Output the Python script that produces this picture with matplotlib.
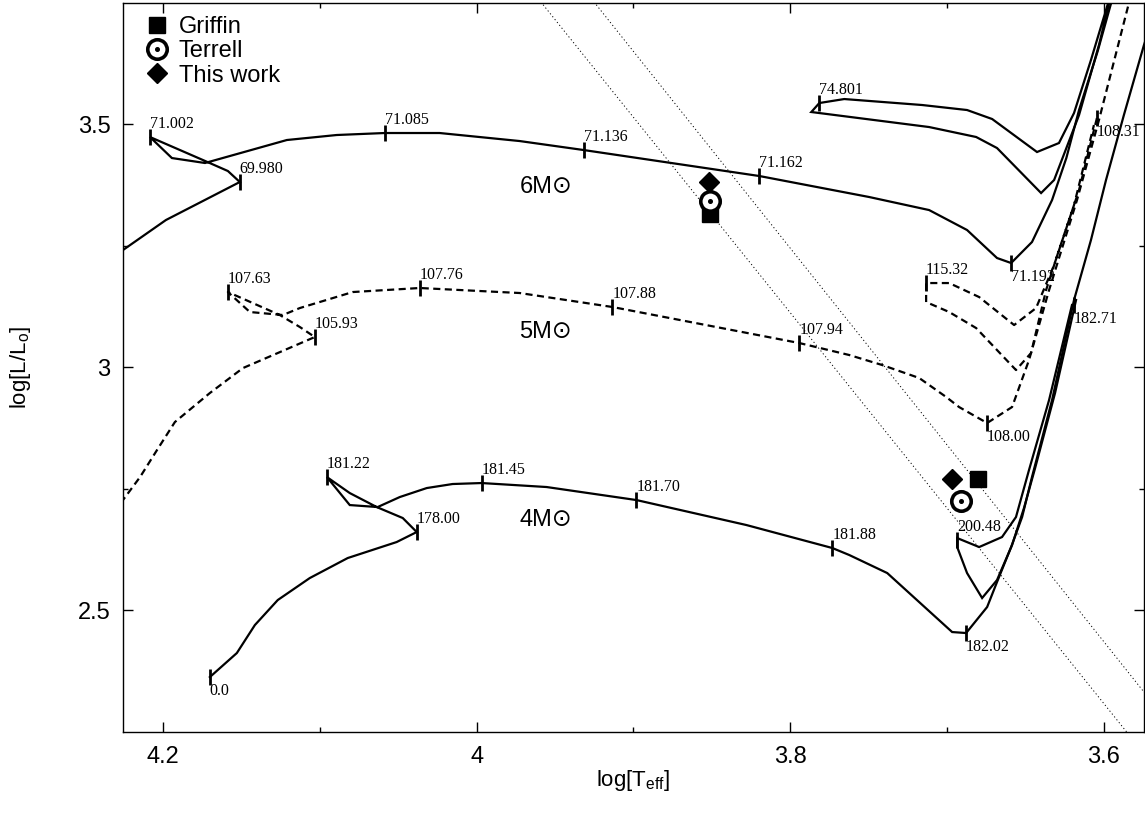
import matplotlib
matplotlib.use("Agg")
import matplotlib.pyplot as plt
from matplotlib.legend_handler import HandlerTuple

plt.rcParams["font.family"] = ["Liberation Sans", "DejaVu Sans"]
plt.rcParams["mathtext.fontset"] = "custom"
plt.rcParams["mathtext.rm"] = "Liberation Sans"
plt.rcParams["mathtext.it"] = "Liberation Sans:italic"

# ---- 6 Msun track (main path and blue loop), log Teff / log L
M6_T = [4.2401, 4.1981, 4.1510, 4.1586, 4.1745, 4.2083, 4.1943, 4.1732, 4.1210,
        4.0892, 4.0586, 4.0236, 3.9726, 3.9318, 3.8197, 3.7497, 3.7115, 3.6873,
        3.6682, 3.6592, 3.6459, 3.6331, 3.6240, 3.6159, 3.6040, 3.5949, 3.5917]
M6_L = [3.2078, 3.3025, 3.3807, 3.4033, 3.4259, 3.4733, 3.4300, 3.4198, 3.4671,
        3.4774, 3.4815, 3.4815, 3.4650, 3.4465, 3.3930, 3.3498, 3.3230, 3.2819,
        3.2243, 3.2140, 3.2572, 3.3436, 3.4300, 3.5288, 3.6500, 3.7551, 3.796]
M6_LOOP_T = [3.5940, 3.5968, 3.6083, 3.6191, 3.6287, 3.6427, 3.6713, 3.6873,
             3.7159, 3.7656, 3.7815, 3.7866, 3.7115, 3.6815, 3.6682, 3.6401,
             3.6318, 3.6159, 3.6032, 3.5962, 3.5930]
M6_LOOP_L = [3.796, 3.7551, 3.6317, 3.5226, 3.4609, 3.4424, 3.5103, 3.5288,
             3.5391, 3.5514, 3.5432, 3.5247, 3.4938, 3.4733, 3.4506, 3.3580,
             3.3848, 3.5185, 3.6626, 3.7551, 3.796]
M6_AGES = ["69.980", "71.002", "71.085", "71.136", "71.162", "71.192", "74.801"]
M6_AGE_T = [4.1510, 4.2083, 4.0586, 3.9318, 3.8197, 3.6592, 3.7815]
M6_AGE_L = [3.3807, 3.4733, 3.4815, 3.4465, 3.3930, 3.2140, 3.5432]

# ---- 5 Msun track (dashed)
M5_T = [4.2401, 4.2255, 4.2146, 4.2038, 4.1924, 4.1701, 4.1490, 4.1032, 4.1127,
        4.1255, 4.1586, 4.1446, 4.1236, 4.1127, 4.0790, 4.0363, 3.9726, 3.9134,
        3.7943, 3.7624, 3.7414, 3.7178, 3.7006, 3.6924, 3.6745, 3.6586, 3.6478,
        3.6350, 3.6172, 3.6032, 3.5841, 3.5803]
M5_L = [2.663, 2.7263, 2.7737, 2.8292, 2.8868, 2.9465, 2.9979, 3.0617, 3.0823,
        3.1070, 3.1543, 3.1132, 3.1070, 3.1214, 3.1543, 3.1626, 3.1523, 3.1235,
        3.0494, 3.0247, 3.0041, 2.9774, 2.9383, 2.9177, 2.8848, 2.9177, 3.0144,
        3.1584, 3.3436, 3.5082, 3.7490, 3.796]
M5_LOOP_T = [3.6045, 3.6159, 3.6287, 3.6369, 3.6465, 3.6561, 3.6815, 3.6987,
             3.7134, 3.7134, 3.6987, 3.6796, 3.6573, 3.6433, 3.6318, 3.6191,
             3.6064]
M5_LOOP_L = [3.5123, 3.3642, 3.2407, 3.1584, 3.0288, 2.9938, 3.0802, 3.1132,
             3.1337, 3.1728, 3.1728, 3.1440, 3.0864, 3.1214, 3.2099, 3.3333,
             3.4979]
M5_AGES = ["105.93", "107.63", "107.76", "107.88", "107.94", "108.00", "108.31", "115.32"]
M5_AGE_T = [4.1032, 4.1586, 4.0363, 3.9134, 3.7943, 3.6745, 3.6045, 3.7134]
M5_AGE_L = [3.0617, 3.1543, 3.1626, 3.1235, 3.0494, 2.8848, 3.5123, 3.1728]

# ---- 4 Msun track
M4_T = [4.1701, 4.1529, 4.1414, 4.1268, 4.1064, 4.0822, 4.0510, 4.0382, 4.0471,
        4.0637, 4.0809, 4.0955, 4.0809, 4.0631, 4.0490, 4.0318, 4.0153, 3.9968,
        3.9554, 3.8981, 3.8280, 3.7732, 3.7624, 3.7382, 3.6968, 3.6879, 3.6745,
        3.6682, 3.6592, 3.6522, 3.6459, 3.6331, 3.6191, 3.6083, 3.5987, 3.5873,
        3.5745, 3.5650]
M4_L = [2.3621, 2.4115, 2.4691, 2.5206, 2.5658, 2.6070, 2.6399, 2.6605, 2.6893,
        2.7119, 2.7407, 2.7737, 2.7160, 2.7119, 2.7325, 2.7510, 2.7593, 2.7613,
        2.7531, 2.7263, 2.6749, 2.6276, 2.6132, 2.5761, 2.4547, 2.4527, 2.5062,
        2.5576, 2.6296, 2.6914, 2.7737, 2.9321, 3.1379, 3.2613, 3.3848, 3.5185,
        3.6626, 3.755]
M4_LOOP_T = [3.6204, 3.6350, 3.6478, 3.6561, 3.6650, 3.6796, 3.6936, 3.6936,
             3.6873, 3.6777, 3.6682, 3.6586, 3.6510, 3.6439, 3.6312, 3.6178]
M4_LOOP_L = [3.1276, 2.9321, 2.7881, 2.6914, 2.6502, 2.6296, 2.6481, 2.6296,
             2.5761, 2.5247, 2.5617, 2.6337, 2.7099, 2.7922, 2.9465, 3.1379]
M4_AGES = ["0.0", "178.00", "181.22", "181.45", "181.70", "181.88", "182.02", "182.71", "200.48"]
M4_AGE_T = [4.1701, 4.0382, 4.0955, 3.9968, 3.8981, 3.7732, 3.6879, 3.6191, 3.6936]
M4_AGE_L = [2.3621, 2.6605, 2.7737, 2.7613, 2.7263, 2.6276, 2.4527, 3.1276, 2.6440]

# ---- observed positions
GRIFFIN_T = [3.8510, 3.6803]
GRIFFIN_L = [3.3148, 2.7695]
TERRELL_T = [3.8510, 3.6911]
TERRELL_L = [3.3416, 2.7243]
THIS_WORK_T = [3.8516, 3.6968]
THIS_WORK_L = [3.3807, 2.7695]

# ---- instability strip edges (dotted)
EDGE_A_T = [4.0209, 3.5236]
EDGE_A_L = [4.0, 2.0]
EDGE_B_T = [3.9866, 3.4927]
EDGE_B_L = [4.0, 2.0]

# label placement: "u" above-right of the tick, "d" below-right
M6_SIDE = ["u", "u", "u", "u", "u", "d", "u"]
M5_SIDE = ["u", "u", "u", "u", "u", "d", "d", "u"]
M4_SIDE = ["d", "u", "u", "u", "u", "u", "d", "d", "u"]

fig = plt.figure(figsize=(11.45, 8.13), dpi=100)
ax = fig.add_axes([0.1074, 0.0996, 0.8917, 0.8967])

LW = 1.6
solid = dict(color="black", lw=LW, solid_joinstyle="miter", zorder=3)
dashed = dict(color="black", lw=LW, linestyle=(0, (3.2, 2.0)), zorder=3)

ax.plot(EDGE_A_T, EDGE_A_L, color="black", lw=0.7, linestyle=(0, (1.2, 2.6)), zorder=2)
ax.plot(EDGE_B_T, EDGE_B_L, color="black", lw=0.7, linestyle=(0, (1.2, 2.6)), zorder=2)

ax.plot(M6_T, M6_L, **solid)
ax.plot(M6_LOOP_T, M6_LOOP_L, **solid)
ax.plot(M5_T, M5_L, **dashed)
ax.plot(M5_LOOP_T, M5_LOOP_L, **dashed)
ax.plot(M4_T, M4_L, **solid)
ax.plot(M4_LOOP_T, M4_LOOP_L, **solid)

for ages, ts, ls, sides in [(M6_AGES, M6_AGE_T, M6_AGE_L, M6_SIDE),
                            (M5_AGES, M5_AGE_T, M5_AGE_L, M5_SIDE),
                            (M4_AGES, M4_AGE_T, M4_AGE_L, M4_SIDE)]:
    ax.plot(ts, ls, linestyle="none", marker="|", markersize=11,
            markeredgewidth=2.0, color="black", zorder=4)
    for lab, t, l, s in zip(ages, ts, ls, sides):
        if s == "u":
            ax.annotate(lab, (t, l), xytext=(0, 3.5), textcoords="offset points",
                        ha="left", va="bottom", fontsize=11.5,
                        family="Liberation Serif", zorder=5)
        else:
            ax.annotate(lab, (t, l), xytext=(0, -4.5), textcoords="offset points",
                        ha="left", va="top", fontsize=11.5,
                        family="Liberation Serif", zorder=5)

# observations
h_sq, = ax.plot(GRIFFIN_T, GRIFFIN_L, linestyle="none", marker="s",
                markersize=11, color="black", zorder=6)
h_ci, = ax.plot(TERRELL_T, TERRELL_L, linestyle="none", marker="o",
                markersize=14, markerfacecolor="white", markeredgecolor="black",
                markeredgewidth=2.6, zorder=6)
h_dot, = ax.plot(TERRELL_T, TERRELL_L, linestyle="none", marker="o",
                 markersize=2.6, color="black", zorder=7)
h_di, = ax.plot(THIS_WORK_T, THIS_WORK_L, linestyle="none", marker="D",
                markersize=10, color="black", zorder=6)

for txt, l in [("6M\u2299", 3.370), ("5M\u2299", 3.072), ("4M\u2299", 2.685)]:
    ax.text(3.9726, l, txt, fontsize=17, ha="left", va="center", zorder=5)

leg = ax.legend([h_sq, (h_ci, h_dot), h_di], ["Griffin", "Terrell", "This work"],
                handler_map={tuple: HandlerTuple(ndivide=1)},
                loc="upper left", bbox_to_anchor=(0.013, 0.997),
                frameon=False, fontsize=17,
                handlelength=0.9, handletextpad=0.45, labelspacing=0.1,
                borderaxespad=0.15, borderpad=0.3)

ax.set_xlim(4.2255, 3.5745)
ax.set_ylim(2.249, 3.749)
ax.set_xticks([4.2, 4.0, 3.8, 3.6])
ax.set_xticklabels(["4.2", "4", "3.8", "3.6"])
ax.set_xticks([4.1, 3.9, 3.7], minor=True)
ax.set_yticks([2.5, 3.0, 3.5])
ax.set_yticklabels(["2.5", "3", "3.5"])
ax.set_yticks([2.75, 3.25], minor=True)
ax.tick_params(which="both", direction="in", top=True, right=True, width=1.0)
ax.tick_params(which="major", length=7.5, labelsize=17)
ax.tick_params(axis="x", which="major", pad=10)
ax.tick_params(axis="y", which="major", pad=9)
ax.tick_params(which="minor", length=3.8)
for sp in ax.spines.values():
    sp.set_linewidth(1.0)

ax.set_xlabel(r"log[T$_{\mathrm{eff}}$]", fontsize=16, labelpad=0)
ax.set_ylabel(r"log[L/L$_{\mathrm{o}}$]", fontsize=16, labelpad=32)

fig.savefig("out.png", dpi=100)
